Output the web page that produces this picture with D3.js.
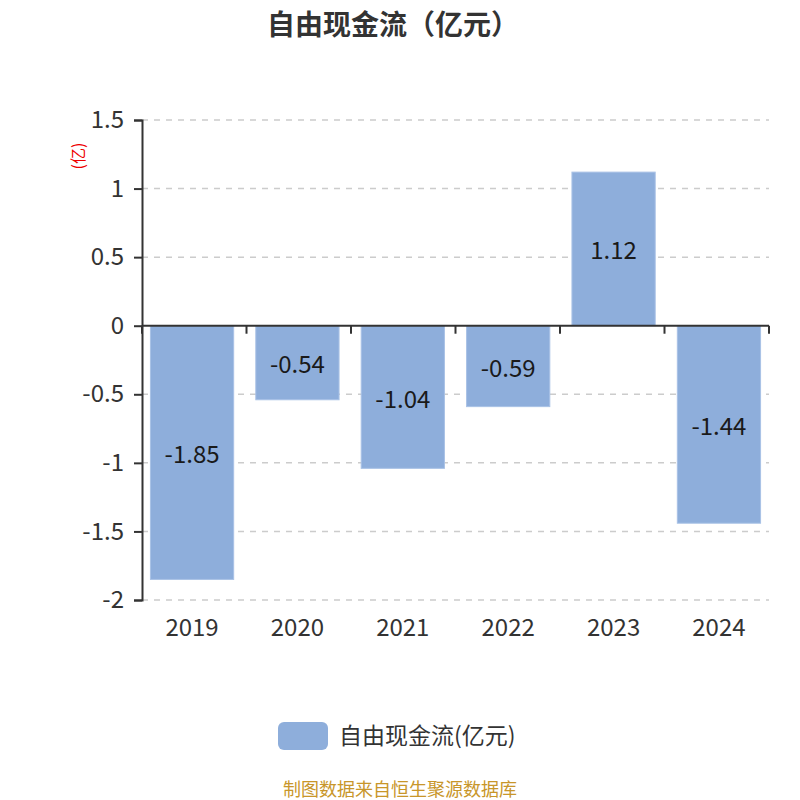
<!DOCTYPE html>
<html><head><meta charset="utf-8">
<script src="https://cdn.jsdelivr.net/npm/d3@7/dist/d3.min.js"></script>
<style>body{margin:0;background:#fff}svg{display:block}text{font-family:"Noto Sans CJK SC","Noto Sans",sans-serif}</style>
</head><body>
<svg id="c" width="800" height="800"></svg>
<script>
const categories = ["2019","2020","2021","2022","2023","2024"];
const values = [-1.85,-0.54,-1.04,-0.59,1.12,-1.44];
const yTicks = [1.5,1,0.5,0,-0.5,-1,-1.5,-2];
const seriesName = "自由现金流(亿元)";
const title = "自由现金流（亿元）";
const unitLabel = "(亿)";
const footer = "制图数据来自恒生聚源数据库";

const svg = d3.select("#c");
const mLeft = 142, mRight = 769, mTop = 120, mBottom = 600;
const x = d3.scaleBand().domain(categories).range([mLeft, mRight]).paddingInner(0.21).paddingOuter(0.08);
const y = d3.scaleLinear().domain([-2, 1.5]).range([mBottom, mTop]);
const color = "#8eaedb";

// grid
svg.append("g").selectAll("line").data(yTicks.filter(d => d !== 0)).join("line")
  .attr("x1", mLeft).attr("x2", mRight).attr("y1", d => y(d)).attr("y2", d => y(d))
  .attr("stroke", "#cccccc").attr("stroke-width", 1.5).attr("stroke-dasharray", "6,6");

// bars
svg.append("g").selectAll("rect").data(values).join("rect")
  .attr("x", (d, i) => x(categories[i]))
  .attr("width", x.bandwidth())
  .attr("y", d => y(Math.max(0, d)))
  .attr("height", d => Math.abs(y(d) - y(0)))
  .attr("fill", color).attr("stroke", "#a9c2e6").attr("stroke-width", 1);

// labels
svg.append("g").selectAll("text").data(values).join("text")
  .attr("x", (d, i) => x(categories[i]) + x.bandwidth() / 2)
  .attr("y", d => (y(d) + y(0)) / 2)
  .attr("text-anchor", "middle").attr("dominant-baseline", "central")
  .attr("font-size", 24).attr("fill", "#1a1a1a")
  .text(d => d.toFixed(2));

// y axis
const yAxis = svg.append("g").attr("transform", `translate(${mLeft},0)`)
  .call(d3.axisLeft(y).tickValues(yTicks).tickSize(8).tickPadding(10).tickFormat(d => String(d)));
yAxis.selectAll("path,line").attr("stroke", "#333").attr("stroke-width", 2);
yAxis.selectAll("text").attr("font-size", 24).attr("fill", "#333");

// x axis at zero
const xAxis = svg.append("g").attr("transform", `translate(0,${y(0)})`)
  .call(d3.axisBottom(x).tickSize(0).tickFormat(""));
xAxis.select("path").attr("stroke", "#333").attr("stroke-width", 2).attr("d", `M${mLeft},0H${mRight}`);
xAxis.selectAll(".tick").remove();
const bounds = d3.range(categories.length + 1).map(i => mLeft + i * (mRight - mLeft) / categories.length);
svg.append("g").selectAll("line").data(bounds).join("line")
  .attr("x1", d => d).attr("x2", d => d).attr("y1", y(0)).attr("y2", y(0) + 8)
  .attr("stroke", "#333").attr("stroke-width", 2);

// x labels
svg.append("g").selectAll("text").data(categories).join("text")
  .attr("x", d => x(d) + x.bandwidth() / 2).attr("y", 636)
  .attr("text-anchor", "middle").attr("font-size", 24).attr("fill", "#333").text(d => d);

// unit label
svg.append("text").attr("transform", "translate(84,156) rotate(-90)")
  .attr("text-anchor", "middle").attr("font-size", 16).attr("fill", "#e00").text(unitLabel);

// title
svg.append("text").attr("x", 393).attr("y", 35).attr("text-anchor", "middle")
  .attr("font-size", 28).attr("font-weight", "bold").attr("fill", "#333").text(title);

// legend
svg.append("rect").attr("x", 278).attr("y", 722).attr("width", 50).attr("height", 28).attr("rx", 6)
  .attr("fill", color);
svg.append("text").attr("x", 339).attr("y", 744).attr("font-size", 23).attr("fill", "#333").text(seriesName);

// footer
svg.append("text").attr("x", 400).attr("y", 796).attr("text-anchor", "middle")
  .attr("font-size", 18).attr("fill", "#c8962a").text(footer);
</script>
</body></html>
